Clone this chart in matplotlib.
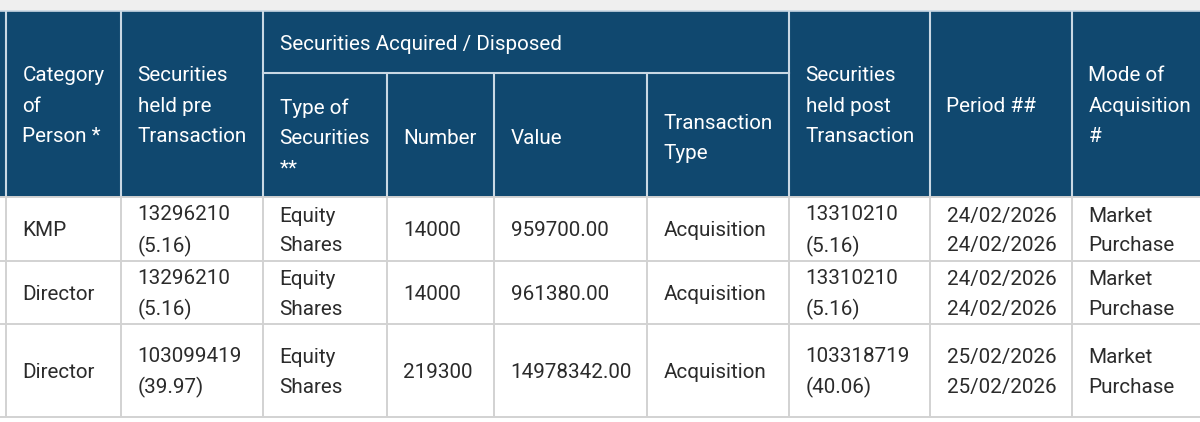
import matplotlib.pyplot as plt
from matplotlib.patches import Rectangle

plt.rcParams['font.family'] = ['Roboto', 'DejaVu Sans']

# Table contents
categories = ["KMP", "Director", "Director"]
held_pre = ["13296210\n(5.16)", "13296210\n(5.16)", "103099419\n(39.97)"]
sec_type = ["Equity\nShares", "Equity\nShares", "Equity\nShares"]
numbers = ["14000", "14000", "219300"]
values = ["959700.00", "961380.00", "14978342.00"]
trans_type = ["Acquisition", "Acquisition", "Acquisition"]
held_post = ["13310210\n(5.16)", "13310210\n(5.16)", "103318719\n(40.06)"]
periods = ["24/02/2026\n24/02/2026", "24/02/2026\n24/02/2026", "25/02/2026\n25/02/2026"]
modes = ["Market\nPurchase", "Market\nPurchase", "Market\nPurchase"]

header_top = ["Category\nof\nPerson *", "Securities\nheld pre\nTransaction"]
header_group = "Securities Acquired / Disposed"
header_sub = ["Type of\nSecurities\n**", "Number", "Value", "Transaction\nType"]
header_end = ["Securities\nheld post\nTransaction", "Period ##", "Mode of\nAcquisition\n#"]

# Grid in pixels
col_x = [6, 121, 263, 387, 494, 647, 789, 930, 1072, 1200]
row_y = [197, 261, 324, 417]
top_y = 11
sub_y = 73
pad = 16.5

navy = "#10486f"
head_line = "#c9d8e4"
cell_line = "#d2d2d2"
text_col = "#2b2b2b"
fs = 14.85
spacing = 1.74
body_spacing = 1.68

fig = plt.figure(figsize=(12, 4.22), dpi=100)
ax = fig.add_axes([0, 0, 1, 1])
ax.set_xlim(0, 1200)
ax.set_ylim(422, 0)
ax.axis("off")

# Page background above the table
ax.add_patch(Rectangle((0, 0), 1200, top_y, color="#efefef", lw=0))
ax.add_patch(Rectangle((0, top_y), 1200, row_y[0] - top_y, color=navy, lw=0))

# Header lines
for i, x in enumerate(col_x[:-1]):
    start = sub_y if i in (3, 4, 5) else top_y
    ax.plot([x, x], [start, row_y[0]], color=head_line, lw=1.5, solid_capstyle="butt")
ax.plot([0, 1200], [top_y, top_y], color=head_line, lw=1.2)
ax.plot([col_x[2], col_x[6]], [sub_y, sub_y], color=head_line, lw=1.5)


def head(x, y, s):
    ax.text(x + pad, y, s, color="white", fontsize=fs, va="center", ha="left",
            linespacing=spacing)


# Header text
head(col_x[0], 106, header_top[0])
head(col_x[1], 106, header_top[1])
head(col_x[2], 45, header_group)
for i, s in enumerate(header_sub):
    head(col_x[2 + i], 138.5, s)
for i, s in enumerate(header_end):
    head(col_x[6 + i], 106, s)

# Body lines
for x in col_x[:-1]:
    ax.plot([x, x], [row_y[0], row_y[-1]], color=cell_line, lw=1.4, solid_capstyle="butt")
for y in row_y:
    ax.plot([0, 1200], [y, y], color=cell_line, lw=1.4)

# Body text
columns = [categories, held_pre, sec_type, numbers, values, trans_type, held_post, periods, modes]
for c, col in enumerate(columns):
    for r, s in enumerate(col):
        ym = (row_y[r] + row_y[r + 1]) / 2 + 2
        ax.text(col_x[c] + pad, ym, s, color=text_col, fontsize=fs, va="center", ha="left",
                linespacing=body_spacing)

fig.savefig("out.png", dpi=100)
